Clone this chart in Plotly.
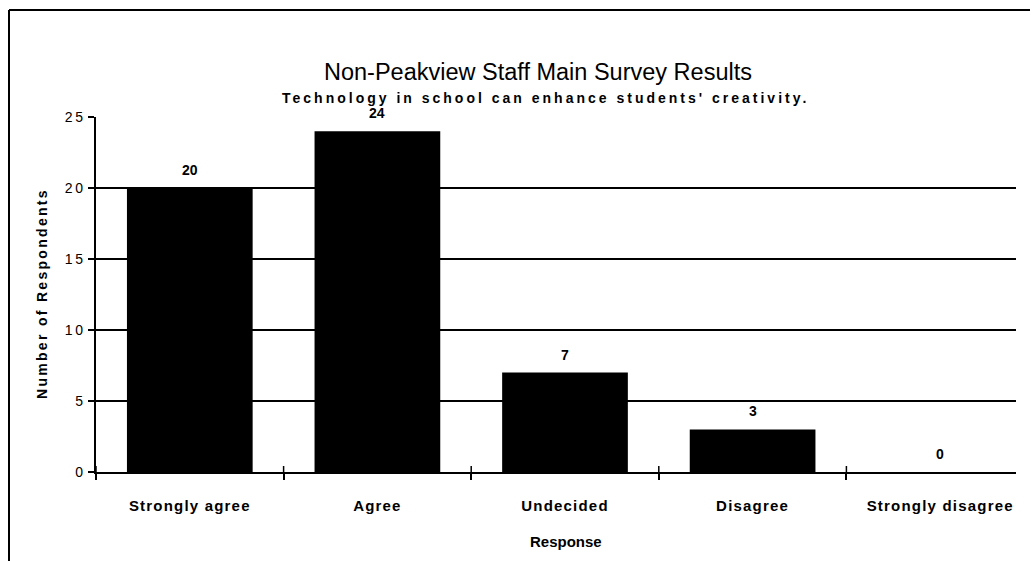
import plotly.graph_objects as go

# Survey responses
responses = ["Strongly agree", "Agree", "Undecided", "Disagree", "Strongly disagree"]
counts = [20, 24, 7, 3, 0]
y_ticks = [0, 5, 10, 15, 20, 25]

title_text = "Non-Peakview Staff Main Survey Results"
subtitle_text = "Technology in school can enhance students' creativity."
x_title = "Response"
y_title = "Number of Respondents"

W, H = 1036, 561
M_L, M_R, M_T, M_B = 96, 20, 117, 89
plot_w = W - M_L - M_R
plot_h = H - M_T - M_B
CAT_PX = 187.6  # pixel width of one response category

FONT = "Liberation Sans, Arial, Helvetica, sans-serif"


def spaced(text, px):
    return f"<span style='letter-spacing:{px}px'>{text}</span>"


fig = go.Figure()

fig.add_trace(go.Bar(
    x=responses, y=counts,
    marker=dict(color="black", line=dict(width=0)),
    width=0.67,
    hoverinfo="x+y",
    showlegend=False,
))

annotations = []
for r, c in zip(responses, counts):
    annotations.append(dict(
        x=r, y=c, xref="x", yref="y", text=f"<b>{c}</b>",
        showarrow=False, yshift=18,
        font=dict(family=FONT, size=14, color="black"),
    ))

# Titles
annotations.append(dict(
    x=(538 - M_L) / plot_w, y=(H - M_B - 72) / plot_h, xref="paper", yref="paper",
    text=title_text, showarrow=False, xanchor="center", yanchor="middle",
    font=dict(family=FONT, size=23.5, color="black"),
))
annotations.append(dict(
    x=(545 - M_L) / plot_w, y=(H - M_B - 98) / plot_h, xref="paper", yref="paper",
    text="<b>" + spaced(subtitle_text, 3) + "</b>", showarrow=False,
    xanchor="center", yanchor="middle",
    font=dict(family=FONT, size=14, color="black"),
))
annotations.append(dict(
    x=(42 - M_L) / plot_w, y=(H - M_B - 294) / plot_h, xref="paper", yref="paper",
    text="<b>" + spaced(y_title, 2.3) + "</b>", showarrow=False, textangle=-90,
    xanchor="center", yanchor="middle",
    font=dict(family=FONT, size=14, color="black"),
))
annotations.append(dict(
    x=(566 - M_L) / plot_w, y=(H - M_B - 541) / plot_h, xref="paper", yref="paper",
    text="<b>" + x_title + "</b>", showarrow=False,
    xanchor="center", yanchor="middle",
    font=dict(family=FONT, size=15, color="black"),
))

# Page frame: top and left border lines
fx = (9 - M_L) / plot_w
fy = (H - M_B - 10) / plot_h
fr = (1030 - M_L) / plot_w
shapes = [
    dict(type="line", xref="paper", yref="paper", x0=fx, x1=fx, y0=-(M_B + 5) / plot_h, y1=fy,
         line=dict(color="black", width=2)),
    dict(type="line", xref="paper", yref="paper", x0=fx, x1=fr, y0=fy, y1=fy,
         line=dict(color="black", width=2)),
]

# Upper halves of the category-boundary ticks, so they cross the axis line
for k in range(len(responses)):
    shapes.append(dict(
        type="line", xref="x", yref="y", ysizemode="pixel", yanchor=0,
        x0=k - 0.5, x1=k - 0.5, y0=0, y1=6,
        line=dict(color="black", width=1.5),
    ))

fig.update_layout(
    width=W, height=H,
    margin=dict(l=M_L, r=M_R, t=M_T, b=M_B),
    paper_bgcolor="white", plot_bgcolor="white",
    bargap=0.33,
    annotations=annotations,
    shapes=shapes,
    xaxis=dict(
        type="category", categoryorder="array", categoryarray=responses,
        range=[-0.5, -0.5 + plot_w / CAT_PX],
        showgrid=False, zeroline=False,
        showline=True, linecolor="black", linewidth=2,
        ticks="outside", ticklen=6, tickwidth=1.5, tickcolor="black",
        tickson="boundaries",
        tickfont=dict(family=FONT, size=15, color="black"),
        tickvals=responses,
        ticktext=["<b>" + spaced(r, 1.2) + "</b>" for r in responses],
        ticklabelstandoff=19,
    ),
    yaxis=dict(
        range=[0, 25], tickvals=y_ticks,
        ticktext=[spaced(str(v), 2.5) for v in y_ticks],
        showgrid=True, gridcolor="black", gridwidth=1.5,
        zeroline=False,
        showline=True, linecolor="black", linewidth=1.5,
        ticks="outside", ticklen=6, tickwidth=1.5, tickcolor="black",
        tickfont=dict(family=FONT, size=14, color="black"),
    ),
)

fig.write_html("out.html")
